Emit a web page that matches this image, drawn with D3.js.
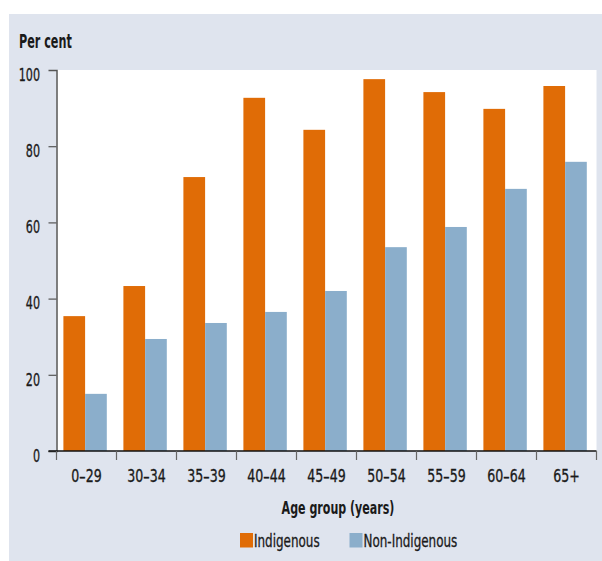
<!DOCTYPE html>
<html>
<head>
<meta charset="utf-8">
<script src="https://cdn.jsdelivr.net/npm/d3@7"></script>
<style>
  html, body { margin: 0; padding: 0; background: #ffffff; }
  svg { display: block; }
  text { font-family: "DejaVu Sans", sans-serif; fill: #1a1a1a; }
  text.reg { stroke: #1a1a1a; stroke-width: 0.35px; }
</style>
</head>
<body>
<svg id="chart" width="602" height="561"></svg>
<script>
// Age groups and the share (%) in each for the two populations
const ageGroups = ["0–29", "30–34", "35–39", "40–44", "45–49", "50–54", "55–59", "60–64", "65+"];
const indigenous = [35.4, 43.3, 71.9, 92.7, 84.3, 97.6, 94.2, 89.8, 95.8];
const nonIndigenous = [15.0, 29.4, 33.6, 36.5, 42.0, 53.5, 58.8, 68.8, 75.9];
const yTicks = [0, 20, 40, 60, 80, 100];
const seriesNames = ["Indigenous", "Non-Indigenous"];
const seriesColors = ["#e06c06", "#8baecb"];

const svg = d3.select("#chart");

// Narrow the text horizontally to get a condensed face: x is given in
// unscaled units and divided by the squeeze factor.
function condensed(sel, x, sx) {
  sel.attr("x", x / sx).attr("transform", `scale(${sx},1)`);
  return sel;
}

// Panel background
svg.append("rect")
  .attr("x", 9).attr("y", 14).attr("width", 593).attr("height", 547)
  .attr("fill", "#dfe4ee");

const plot = { left: 56.5, right: 596.5, top: 70, bottom: 451 };

// Plot area
svg.append("rect")
  .attr("x", plot.left).attr("y", plot.top)
  .attr("width", plot.right - plot.left).attr("height", plot.bottom - plot.top)
  .attr("fill", "#ffffff");

const x = d3.scaleBand().domain(ageGroups).range([plot.left, plot.right]).padding(0);
const y = d3.scaleLinear().domain([0, 100]).range([plot.bottom, plot.top]);

const barW = 21.7;
const groupOffset = 6.9;

const rows = ageGroups.map((g, i) => ({ group: g, values: [indigenous[i], nonIndigenous[i]] }));

const groups = svg.append("g").selectAll("g")
  .data(rows).join("g")
  .attr("transform", d => `translate(${x(d.group) + groupOffset},0)`);

groups.selectAll("rect")
  .data(d => d.values.map((v, k) => ({ v, k })))
  .join("rect")
  .attr("x", d => d.k * barW)
  .attr("y", d => y(d.v))
  .attr("width", barW)
  .attr("height", d => y(0) - y(d.v))
  .attr("fill", d => seriesColors[d.k]);

// Y axis
const yAxis = svg.append("g")
  .attr("transform", `translate(${plot.left},0)`)
  .call(d3.axisLeft(y).tickValues(yTicks).tickSize(8).tickPadding(8).tickFormat(d3.format("d")));
yAxis.select(".domain").attr("stroke", "#555").attr("stroke-width", 1.5);
yAxis.selectAll(".tick line").attr("stroke", "#555").attr("stroke-width", 1.2)
  .filter(d => d === 100).remove();
yAxis.selectAll(".tick text")
  .attr("class", "reg")
  .attr("font-size", 18).attr("dy", "0.35em").attr("y", 4)
  .attr("fill", "#1a1a1a")
  .style("font-family", "'DejaVu Sans', sans-serif")
  .call(condensed, -16.5, 0.62);

// X axis: baseline plus boundary ticks between age groups
const xAxis = svg.append("g").attr("transform", `translate(0,${plot.bottom})`);
xAxis.append("line")
  .attr("x1", plot.left - 8).attr("x2", plot.right)
  .attr("y1", 0).attr("y2", 0)
  .attr("stroke", "#111").attr("stroke-width", 1.5);
const boundaries = ageGroups.map(g => x(g)).concat([x(ageGroups[ageGroups.length - 1]) + x.bandwidth()]);
xAxis.selectAll("line.bound")
  .data(boundaries).join("line")
  .attr("class", "bound")
  .attr("x1", d => d).attr("x2", d => d)
  .attr("y1", 0).attr("y2", 9)
  .attr("stroke", "#666").attr("stroke-width", 1.2);
const xs = 0.7;
xAxis.selectAll("text.cat")
  .data(ageGroups).join("text")
  .attr("class", "cat reg")
  .attr("x", d => (x(d) + x.bandwidth() / 2) / xs)
  .attr("transform", `scale(${xs},1)`)
  .attr("y", 31)
  .attr("text-anchor", "middle")
  .attr("font-size", 18)
  .text(d => d);

// Titles
svg.append("text")
  .attr("y", 48)
  .attr("font-size", 19).attr("font-weight", "bold")
  .text("Per cent")
  .call(condensed, 19, 0.59);

svg.append("text")
  .attr("y", 514)
  .attr("text-anchor", "middle")
  .attr("font-size", 18).attr("font-weight", "bold")
  .text("Age group (years)")
  .call(condensed, 338, 0.615);

// Legend
const legendItems = [
  { name: seriesNames[0], color: seriesColors[0], x: 240 },
  { name: seriesNames[1], color: seriesColors[1], x: 349.5 }
];
const legend = svg.append("g");
legend.selectAll("rect")
  .data(legendItems).join("rect")
  .attr("x", d => d.x).attr("y", 533)
  .attr("width", 13).attr("height", 14.5)
  .attr("fill", d => d.color);
const ls = 0.665;
legend.selectAll("text")
  .data(legendItems).join("text")
  .attr("class", "reg")
  .attr("x", d => (d.x + 14) / ls)
  .attr("transform", `scale(${ls},1)`)
  .attr("y", 547)
  .attr("font-size", 18)
  .text(d => d.name);
</script>
</body>
</html>
